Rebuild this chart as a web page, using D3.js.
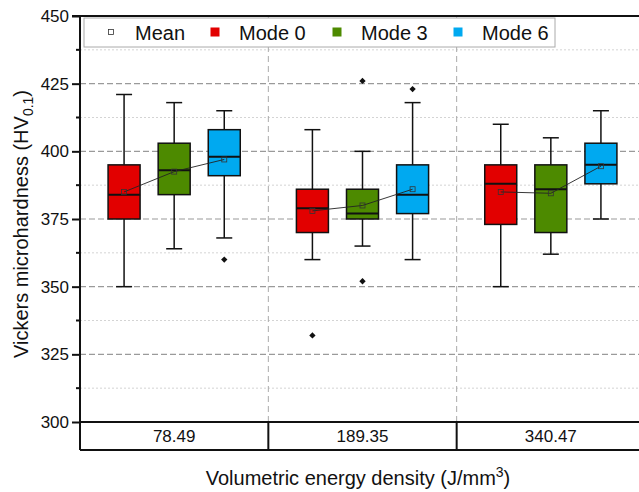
<html>
<head>
  <title>Vickers microhardness box plot</title>
  <script src="https://cdnjs.cloudflare.com/ajax/libs/d3/7.8.5/d3.min.js"></script>
  <style>
    body { margin: 0; background: #fff; }
    text { font-family: "Liberation Sans", Arial, sans-serif; fill: #111; }
  </style>
</head>
<body>
  <script>
    // data
    const categories = [ "78.49", "189.35", "340.47" ];
    const modes = [ "Mode 0", "Mode 3", "Mode 6" ];
    const modeColors = [ "#e20000", "#4d8a00", "#00a9f0" ];

    // one value per category, per mode
    const whiskerLow  = [ [350, 360, 350], [364, 365, 362], [368, 360, 375] ];
    const q1          = [ [375, 370, 373], [384, 375, 370], [391, 377, 388] ];
    const median      = [ [384, 379, 388], [393, 377, 386], [398, 384, 395] ];
    const q3          = [ [395, 386, 395], [403, 386, 395], [408, 395, 403] ];
    const whiskerHigh = [ [421, 408, 410], [418, 400, 405], [415, 418, 415] ];
    const means       = [ [385, 378, 385], [392.5, 380, 384.5], [397, 386, 394.5] ];
    const outliers    = [ [[], [332], []], [[], [426, 352], []], [[360], [423], []] ];

    const majorTicks = [ 300, 325, 350, 375, 400, 425, 450 ];
    const minorTicks = [ 312.5, 337.5, 362.5, 387.5, 412.5, 437.5 ];

    const width = 639, height = 492;
    const plotLeft = 80, plotRight = 645, plotTop = 16, plotBottom = 422, rowBottom = 450;
    const boxW = 32, capW = 16;

    const svg = d3.select( "body" )
      .append( "svg" )
      .attr( "width", width )
      .attr( "height", height );

    const y = d3.scaleLinear().domain( [300, 450] ).range( [plotBottom, plotTop] );
    const x = d3.scaleBand().domain( categories ).range( [plotLeft, plotRight] );
    const xm = d3.scalePoint().domain( modes ).range( [0, x.bandwidth()] ).padding( 0.88 );

    // grid
    const grid = svg.append( "g" );
    grid.selectAll( ".minor" )
      .data( minorTicks )
      .enter().append( "line" )
      .attr( "x1", plotLeft ).attr( "x2", plotRight )
      .attr( "y1", d => y(d) ).attr( "y2", d => y(d) )
      .attr( "stroke", "#d4d4d4" )
      .attr( "stroke-dasharray", "2,2" );
    grid.selectAll( ".major" )
      .data( majorTicks.filter( d => d > 300 && d < 450 ) )
      .enter().append( "line" )
      .attr( "x1", plotLeft ).attr( "x2", plotRight )
      .attr( "y1", d => y(d) ).attr( "y2", d => y(d) )
      .attr( "stroke", "#9a9a9a" )
      .attr( "stroke-width", 1.2 )
      .attr( "stroke-dasharray", "6,3" );
    grid.selectAll( ".vert" )
      .data( categories.slice( 1 ) )
      .enter().append( "line" )
      .attr( "x1", d => x(d) ).attr( "x2", d => x(d) )
      .attr( "y1", plotTop ).attr( "y2", plotBottom )
      .attr( "stroke", "#aaa" )
      .attr( "stroke-dasharray", "6,4" );

    // boxes
    const plot = svg.append( "g" );
    modes.forEach( ( m, i ) => {
      const g = plot.append( "g" );
      const cx = c => x( c ) + xm( m );
      const rows = categories.map( ( c, j ) => ({ c, j }) );

      g.selectAll( ".whisker" )
        .data( rows ).enter().append( "line" )
        .attr( "x1", d => cx(d.c) ).attr( "x2", d => cx(d.c) )
        .attr( "y1", d => y( whiskerLow[i][d.j] ) ).attr( "y2", d => y( whiskerHigh[i][d.j] ) )
        .attr( "stroke", "#111" ).attr( "stroke-width", 1.5 );
      [ whiskerLow, whiskerHigh ].forEach( w => {
        g.selectAll( null )
          .data( rows ).enter().append( "line" )
          .attr( "x1", d => cx(d.c) - capW/2 ).attr( "x2", d => cx(d.c) + capW/2 )
          .attr( "y1", d => y( w[i][d.j] ) ).attr( "y2", d => y( w[i][d.j] ) )
          .attr( "stroke", "#111" ).attr( "stroke-width", 1.5 );
      });
      g.selectAll( "rect" )
        .data( rows ).enter().append( "rect" )
        .attr( "x", d => cx(d.c) - boxW/2 )
        .attr( "width", boxW )
        .attr( "y", d => y( q3[i][d.j] ) )
        .attr( "height", d => y( q1[i][d.j] ) - y( q3[i][d.j] ) )
        .attr( "fill", modeColors[i] )
        .attr( "stroke", "#111" ).attr( "stroke-width", 1.5 );
      g.selectAll( ".median" )
        .data( rows ).enter().append( "line" )
        .attr( "x1", d => cx(d.c) - boxW/2 ).attr( "x2", d => cx(d.c) + boxW/2 )
        .attr( "y1", d => y( median[i][d.j] ) ).attr( "y2", d => y( median[i][d.j] ) )
        .attr( "stroke", "#111" ).attr( "stroke-width", 2 );
      rows.forEach( d => {
        g.selectAll( null )
          .data( outliers[i][d.j] ).enter().append( "path" )
          .attr( "d", d3.symbol( d3.symbolSquare, 20 ) )
          .attr( "transform", v => `translate(${cx(d.c)},${y(v)}) rotate(45)` )
          .attr( "fill", "#111" );
      });
    });

    // mean lines and markers
    const meanG = svg.append( "g" );
    categories.forEach( ( c, j ) => {
      const pts = modes.map( ( m, i ) => [ x(c) + xm(m), y( means[i][j] ) ] );
      meanG.append( "path" )
        .attr( "d", d3.line()( pts ) )
        .attr( "fill", "none" )
        .attr( "stroke", "#222" )
        .attr( "stroke-width", 0.9 );
      meanG.selectAll( null )
        .data( pts ).enter().append( "rect" )
        .attr( "x", p => p[0] - 2.5 ).attr( "y", p => p[1] - 2.5 )
        .attr( "width", 5 ).attr( "height", 5 )
        .attr( "fill", "none" )
        .attr( "stroke", "#333" ).attr( "stroke-width", 0.8 );
    });

    // frame: top border and category row
    const frame = svg.append( "g" ).attr( "stroke", "#111" ).attr( "stroke-width", 2 );
    frame.append( "line" ).attr( "x1", plotLeft - 8 ).attr( "x2", plotRight ).attr( "y1", plotTop ).attr( "y2", plotTop );
    frame.append( "line" ).attr( "x1", plotLeft ).attr( "x2", plotRight ).attr( "y1", plotBottom ).attr( "y2", plotBottom );
    frame.append( "line" ).attr( "x1", plotLeft ).attr( "x2", plotRight ).attr( "y1", rowBottom ).attr( "y2", rowBottom );
    frame.append( "line" ).attr( "x1", plotLeft ).attr( "x2", plotLeft ).attr( "y1", plotTop ).attr( "y2", rowBottom );
    frame.selectAll( null )
      .data( categories.slice( 1 ) )
      .enter().append( "line" )
      .attr( "x1", d => x(d) ).attr( "x2", d => x(d) )
      .attr( "y1", plotBottom ).attr( "y2", rowBottom );

    svg.append( "g" ).selectAll( "text" )
      .data( categories )
      .enter().append( "text" )
      .attr( "x", d => x(d) + x.bandwidth() / 2 )
      .attr( "y", 442 )
      .attr( "text-anchor", "middle" )
      .attr( "font-size", 17 )
      .text( d => d );

    // y axis
    const yAxis = svg.append( "g" )
      .attr( "transform", `translate(${plotLeft},0)` )
      .call( d3.axisLeft( y ).tickValues( majorTicks ).tickSize( 8 ).tickPadding( 3 ) );
    yAxis.select( ".domain" ).remove();
    yAxis.selectAll( ".tick line" ).attr( "stroke", "#111" ).attr( "stroke-width", 2 );
    yAxis.selectAll( ".tick text" )
      .attr( "font-size", 17 )
      .attr( "font-family", "Liberation Sans, Arial, sans-serif" )
      .attr( "fill", "#111" );
    yAxis.selectAll( ".minor" )
      .data( minorTicks ).enter().append( "line" )
      .attr( "x1", -4 ).attr( "x2", 0 )
      .attr( "y1", d => y(d) ).attr( "y2", d => y(d) )
      .attr( "stroke", "#111" ).attr( "stroke-width", 2 );

    // axis titles
    const yTitle = svg.append( "text" )
      .attr( "transform", "translate(28,224) rotate(-90)" )
      .attr( "text-anchor", "middle" )
      .attr( "font-size", 20 );
    yTitle.append( "tspan" ).text( "Vickers microhardness (HV" );
    yTitle.append( "tspan" ).attr( "font-size", 14 ).attr( "dy", 5 ).text( "0.1" );
    yTitle.append( "tspan" ).attr( "dy", -5 ).text( ")" );

    const xTitle = svg.append( "text" )
      .attr( "x", 358 ).attr( "y", 485 )
      .attr( "text-anchor", "middle" )
      .attr( "font-size", 20 );
    xTitle.append( "tspan" ).text( "Volumetric energy density (J/mm" );
    xTitle.append( "tspan" ).attr( "font-size", 14 ).attr( "dy", -8 ).text( "3" );
    xTitle.append( "tspan" ).attr( "dy", 8 ).text( ")" );

    // legend
    const legend = svg.append( "g" );
    legend.append( "rect" )
      .attr( "x", 84 ).attr( "y", 18 )
      .attr( "width", 471 ).attr( "height", 29 )
      .attr( "fill", "#fff" )
      .attr( "stroke", "#aaa" );
    legend.append( "rect" )
      .attr( "x", 108.5 ).attr( "y", 29.5 ).attr( "width", 5 ).attr( "height", 5 )
      .attr( "fill", "none" ).attr( "stroke", "#333" ).attr( "stroke-width", 0.8 );
    legend.append( "text" ).attr( "x", 135 ).attr( "y", 40 ).attr( "font-size", 20 ).text( "Mean" );
    const legendX = [ 215, 337, 458 ];
    modes.forEach( ( m, i ) => {
      legend.append( "rect" )
        .attr( "x", legendX[i] - 4.5 ).attr( "y", 27.5 )
        .attr( "width", 9 ).attr( "height", 9 )
        .attr( "fill", modeColors[i] );
      legend.append( "text" )
        .attr( "x", legendX[i] + 24 ).attr( "y", 40 )
        .attr( "font-size", 20 )
        .text( m );
    });
  </script>
</body>
</html>
